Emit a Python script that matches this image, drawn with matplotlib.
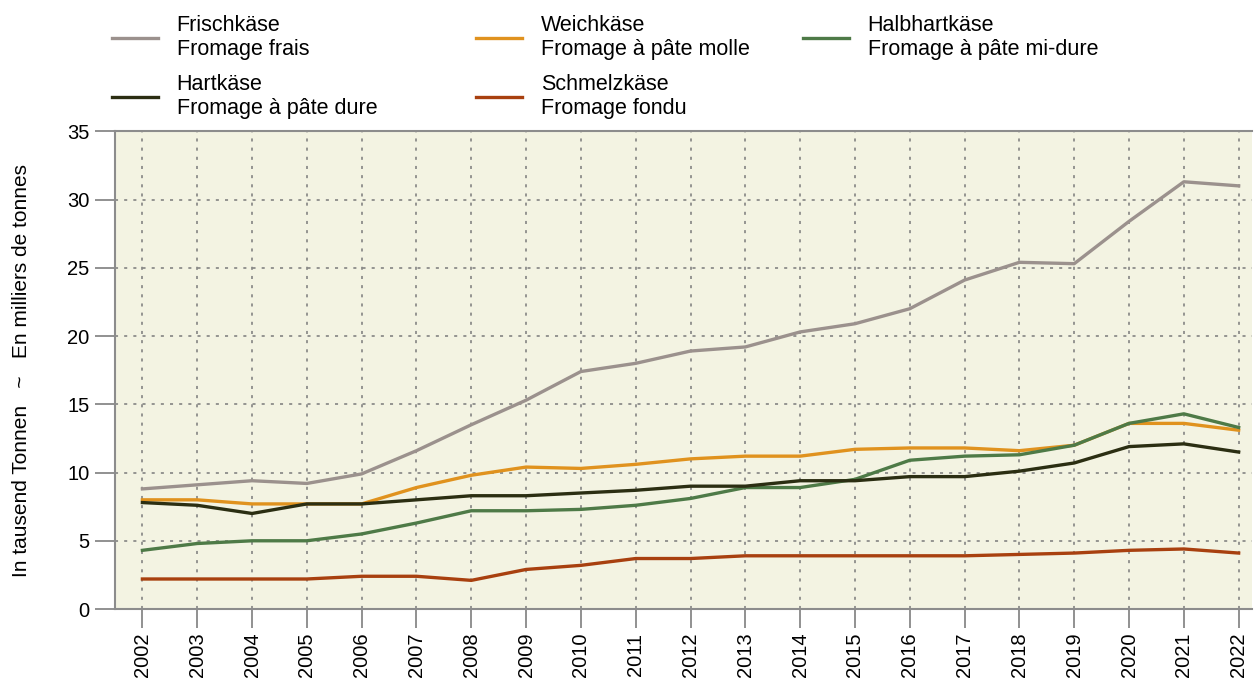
import numpy as np
import matplotlib.pyplot as plt

plt.rcParams['font.family'] = ['Liberation Sans', 'DejaVu Sans']

years = list(range(2002, 2023))
frisch = [8.8, 9.1, 9.4, 9.2, 9.9, 11.6, 13.5, 15.3, 17.4, 18.0, 18.9,
          19.2, 20.3, 20.9, 22.0, 24.1, 25.4, 25.3, 28.4, 31.3, 31.0]
weich = [8.0, 8.0, 7.7, 7.7, 7.7, 8.9, 9.8, 10.4, 10.3, 10.6, 11.0,
         11.2, 11.2, 11.7, 11.8, 11.8, 11.6, 12.0, 13.6, 13.6, 13.1]
halbhart = [4.3, 4.8, 5.0, 5.0, 5.5, 6.3, 7.2, 7.2, 7.3, 7.6, 8.1,
            8.9, 8.9, 9.5, 10.9, 11.2, 11.3, 12.0, 13.6, 14.3, 13.3]
hart = [7.8, 7.6, 7.0, 7.7, 7.7, 8.0, 8.3, 8.3, 8.5, 8.7, 9.0,
        9.0, 9.4, 9.4, 9.7, 9.7, 10.1, 10.7, 11.9, 12.1, 11.5]
schmelz = [2.2, 2.2, 2.2, 2.2, 2.4, 2.4, 2.1, 2.9, 3.2, 3.7, 3.7,
           3.9, 3.9, 3.9, 3.9, 3.9, 4.0, 4.1, 4.3, 4.4, 4.1]

series = {
    'frisch': (frisch, '#9b918d', 'Frischkäse\nFromage frais'),
    'weich': (weich, '#e0921e', 'Weichkäse\nFromage à pâte molle'),
    'halbhart': (halbhart, '#4e7a47', 'Halbhartkäse\nFromage à pâte mi-dure'),
    'hart': (hart, '#2b2e12', 'Hartkäse\nFromage à pâte dure'),
    'schmelz': (schmelz, '#a8400f', 'Schmelzkäse\nFromage fondu'),
}

fig = plt.figure(figsize=(12.54, 6.83), dpi=100)
ax = fig.add_axes([0.0917, 0.1083, 0.907, 0.6995])
ax.set_facecolor('#f3f3e2')

lines = {}
for key in ['frisch', 'weich', 'halbhart', 'hart', 'schmelz']:
    vals, col, lab = series[key]
    lines[key], = ax.plot(years, vals, color=col, linewidth=2.4, label=lab)

ax.set_xlim(2001.5, 2022.25)
ax.set_ylim(0, 35)
ax.set_xticks(years)
ax.set_xticklabels([str(y) for y in years], rotation=90, fontsize=14.5)
ax.set_yticks(range(0, 36, 5))
ax.tick_params(axis='y', labelsize=14.5, length=14.5, width=1.3, color='#888888', pad=4)
ax.tick_params(axis='x', length=14, width=1.3, color='#888888', pad=3)
ax.grid(True, linestyle=(0, (2, 4)), color='#7a7a7a', linewidth=1.1)
for s in ax.spines.values():
    s.set_color('#8c8c8c')
    s.set_linewidth(1.5)
ax.spines['right'].set_visible(False)

ax.set_ylabel('In tausend Tonnen   ~   En milliers de tonnes', fontsize=15, labelpad=26)

# legend laid out as three columns, row-wise
cols = [(['frisch', 'hart'], 112), (['weich', 'schmelz'], 476), (['halbhart'], 803)]
for keys, xpix in cols:
    fig.legend([lines[k] for k in keys], [series[k][2] for k in keys],
               loc='upper left', bbox_to_anchor=(xpix / 1254, 1 - 15 / 683),
               frameon=False, fontsize=15.5, handlelength=2.15, handletextpad=0.85,
               labelspacing=0.62, borderpad=0, borderaxespad=0)

fig.savefig('out.png', dpi=100)
